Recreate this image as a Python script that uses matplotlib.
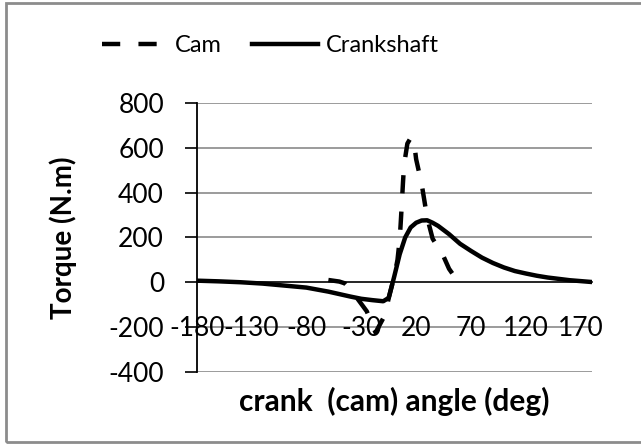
import matplotlib
matplotlib.use("Agg")
import matplotlib.pyplot as plt
from matplotlib.patches import Rectangle
from matplotlib.lines import Line2D

# ---- data ----
crank_deg = [-180, -160, -140, -120, -100, -80, -60, -40, -30, -20, -10, -5, 0, 5, 10, 15,
             20, 25, 30, 35, 40, 50, 60, 70, 80, 90, 100, 110, 120, 130, 140, 150, 160, 170, 180]
crank_torque = [7, 4, 0, -6, -15, -24, -42, -64, -74, -80, -85, -70, 25, 125, 200, 245,
                266, 276, 277, 266, 252, 215, 172, 140, 110, 86, 66, 50, 39, 29, 21, 15, 9, 5, 1]

cam_deg = [-60, -50, -45, -40, -34, -25, -17, -8, -5, 0, 3, 5, 6, 7, 8, 9, 12, 15, 18,
           20, 25, 30, 35, 40, 45, 50, 55, 60]
cam_torque = [10, 3, -5, -30, -70, -130, -225, -143, -70, 25, 100, 190, 270, 355, 445, 525,
              620, 645, 630, 550, 440, 290, 195, 155, 115, 60, 25, 0]

x_ticks = [-180, -130, -80, -30, 20, 70, 120, 170]
y_ticks = [-400, -200, 0, 200, 400, 600, 800]
legend_labels = ["Cam", "Crankshaft"]
xlabel = "crank  (cam) angle (deg)"
ylabel = "Torque (N.m)"

plt.rcParams['font.family'] = ['Lato', 'DejaVu Sans']
plt.rcParams['axes.unicode_minus'] = False

W, H = 641, 445
fig = plt.figure(figsize=(W / 100, H / 100), dpi=100)
ax = fig.add_axes([196.7 / W, 1 - 371.7 / H, (591.7 - 196.7) / W, (371.7 - 103.3) / H])

lw = 3.2
ax.plot(cam_deg, cam_torque, color='black', lw=lw, dashes=(4.1, 4.1),
        dash_capstyle='butt', zorder=3)
ax.plot(crank_deg, crank_torque, color='black', lw=lw, solid_capstyle='round',
        solid_joinstyle='round', zorder=4)

ax.set_xlim(-180, 180)
ax.set_ylim(-400, 800)
ax.set_yticks(y_ticks)
ax.set_xticks(x_ticks)
ax.set_xticklabels([str(v) for v in x_ticks])

for v in y_ticks:
    if v != 0:
        ax.axhline(v, color='#8a8a8a', lw=1.2, zorder=1)

for s in ['top', 'right']:
    ax.spines[s].set_visible(False)
ax.spines['left'].set_color('black')
ax.spines['left'].set_linewidth(1.3)
ax.spines['bottom'].set_position(('data', 0))
ax.spines['bottom'].set_color('black')
ax.spines['bottom'].set_linewidth(1.2)
ax.spines['bottom'].set_zorder(2)

ax.tick_params(axis='y', direction='out', length=8.5, width=1.2, colors='black',
               labelsize=19, pad=15)
ax.tick_params(axis='x', length=0, labelsize=19, pad=24)

ax.set_ylabel(ylabel, fontsize=20, fontweight='bold')
ax.yaxis.set_label_coords(-0.303, 0.498)
ax.set_xlabel(xlabel, fontsize=21.5, fontweight='bold')
ax.xaxis.set_label_coords(0.5, -0.055)

handles = [Line2D([], [], color='black', lw=lw, dashes=(4.1, 4.1), dash_capstyle='butt'),
           Line2D([], [], color='black', lw=lw)]
fig.legend(handles, legend_labels, loc='center', bbox_to_anchor=(270 / W, 1 - 46 / H),
           ncol=2, frameon=False, fontsize=17, handlelength=2.8, handletextpad=0.3,
           columnspacing=1.3)

fig.add_artist(Rectangle((6 / W, 3 / H), 1.2, (442 - 3) / H, transform=fig.transFigure,
                         fill=False, edgecolor='#8c8c8c', lw=2))

fig.savefig("out.png", dpi=100)
